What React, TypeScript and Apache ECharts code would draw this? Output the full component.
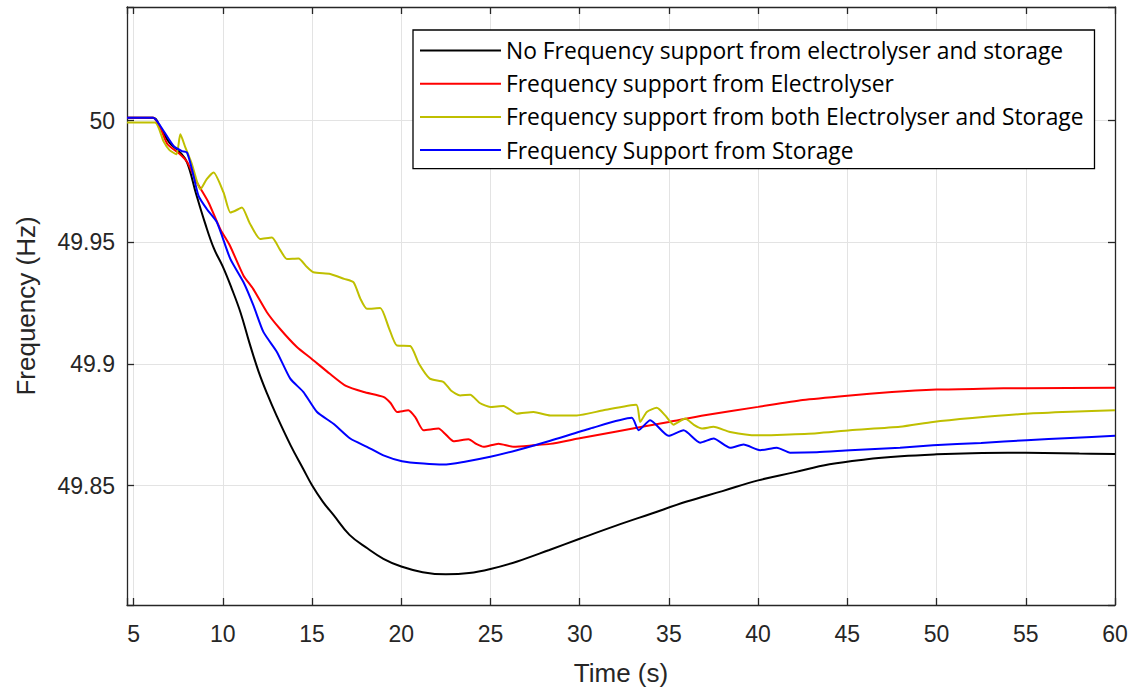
import React, { useEffect, useRef } from "react";
import * as echarts from "echarts";

const seriesNames = [
  "No Frequency support from electrolyser and storage",
  "Frequency support from Electrolyser",
  "Frequency support from both Electrolyser and Storage",
  "Frequency Support from Storage",
];
const seriesColors = ["#000000", "#ff0000", "#bfbf00", "#0000ff"];

const xTickLabels = ["5", "10", "15", "20", "25", "30", "35", "40", "45", "50", "55", "60"];
const yTickLabels = ["49.85", "49.9", "49.95", "50"];

const noSupport = [
  [4.63, 50.0012], [6.1, 50.0012], [6.5, 49.9972], [7.0, 49.991], [7.6, 49.987], [8.0, 49.9828],
  [8.5, 49.970], [9.0, 49.958], [9.5, 49.9475], [10.0, 49.940], [10.5, 49.931], [11.0, 49.921],
  [11.5, 49.9085], [12.0, 49.897], [12.5, 49.8875], [13.0, 49.879], [13.8, 49.8666], [14.5, 49.857],
  [15.0, 49.8502], [15.6, 49.8435], [16.2, 49.838], [17.1, 49.8298], [18.1, 49.8243], [19.0, 49.820],
  [20.0, 49.8168], [21.2, 49.8145], [22.5, 49.8136], [23.8, 49.8141], [25.0, 49.8158], [26.5, 49.8189],
  [28.3, 49.8236], [30.0, 49.8282], [32.0, 49.8335], [34.0, 49.8385], [36.0, 49.8435], [38.0, 49.8478],
  [40.0, 49.8522], [42.0, 49.8555], [44.0, 49.8588], [46.0, 49.8608], [48.0, 49.8621], [50.0, 49.8629],
  [52.0, 49.8634], [54.0, 49.8636], [56.0, 49.8635], [58.0, 49.8632], [60.0, 49.863],
];

const electrolyser = [
  [4.63, 50.0012], [6.1, 50.0012], [6.5, 49.997], [6.9, 49.9903], [7.6, 49.9862], [8.0, 49.983],
  [8.55, 49.9746], [9.2, 49.9664], [9.86, 49.9554], [10.4, 49.9486], [11.16, 49.9363], [11.7, 49.9309],
  [12.47, 49.9213], [13.2, 49.9145], [14.15, 49.907], [15.0, 49.902], [16.0, 49.896], [16.9, 49.891],
  [17.9, 49.8885], [19.0, 49.8865], [19.4, 49.884], [19.76, 49.8803], [20.4, 49.881], [20.8, 49.878],
  [21.25, 49.8728], [22.09, 49.8735], [22.5, 49.871], [22.93, 49.8683], [23.77, 49.8691], [24.2, 49.8672],
  [24.61, 49.866], [25.45, 49.8673], [26.3, 49.866], [27.4, 49.8666], [28.35, 49.8672], [30.0, 49.8695],
  [32.0, 49.8722], [35.0, 49.8762], [37.0, 49.879], [40.0, 49.8824], [42.5, 49.8852], [45.0, 49.887],
  [47.5, 49.8885], [50.0, 49.8895], [52.5, 49.8899], [55.0, 49.8901], [60.0, 49.8903],
];

const both = [
  [4.63, 49.9992], [6.2, 49.9992], [6.68, 49.9915], [7.0, 49.988], [7.4, 49.9862], [7.62, 49.9944],
  [7.9, 49.989], [8.27, 49.9821], [8.55, 49.975], [8.74, 49.9718], [9.1, 49.976], [9.48, 49.9787],
  [10.04, 49.9705], [10.42, 49.9623], [10.7, 49.963], [11.07, 49.9643], [11.5, 49.958], [12.1, 49.9514],
  [12.75, 49.952], [13.2, 49.947], [13.59, 49.9432], [14.24, 49.9434], [14.7, 49.940], [15.08, 49.9377],
  [16.02, 49.937], [16.8, 49.935], [17.33, 49.9336], [17.7, 49.927], [18.08, 49.9227], [18.82, 49.923],
  [19.3, 49.915], [19.76, 49.9076], [20.5, 49.9074], [21.0, 49.900], [21.6, 49.894], [22.37, 49.8926],
  [22.8, 49.889], [23.3, 49.8871], [23.86, 49.8874], [24.4, 49.884], [24.99, 49.8824], [25.73, 49.8828],
  [26.48, 49.8796], [27.41, 49.8803], [28.35, 49.8789], [29.84, 49.8789], [31.33, 49.881], [33.17, 49.8833],
  [33.39, 49.8762], [33.76, 49.8803], [34.32, 49.882], [34.79, 49.8789], [35.26, 49.8751], [35.91, 49.8776],
  [36.4, 49.875], [36.85, 49.8735], [37.5, 49.8742], [38.43, 49.8721], [39.93, 49.8707], [41.42, 49.871],
  [43.3, 49.8716], [45.15, 49.8728], [47.95, 49.8742], [49.8, 49.8762], [52.0, 49.8778], [55.05, 49.8796],
  [57.5, 49.8804], [60.0, 49.881],
];

const storage = [
  [4.63, 50.0012], [6.1, 50.0012], [6.5, 49.9978], [7.24, 49.9896], [7.71, 49.9875], [7.99, 49.9869],
  [8.27, 49.98], [8.64, 49.9691], [9.11, 49.9636], [9.67, 49.9582], [10.42, 49.9432], [11.16, 49.9336],
  [11.72, 49.924], [12.28, 49.9131], [13.03, 49.905], [13.78, 49.894], [14.52, 49.8885], [15.28, 49.8803],
  [16.2, 49.8755], [17.14, 49.8694], [18.08, 49.866], [19.0, 49.8625], [20.04, 49.8601], [21.25, 49.8591],
  [22.37, 49.8587], [23.49, 49.8598], [24.99, 49.8619], [26.48, 49.8646], [28.35, 49.8685], [30.59, 49.8735],
  [32.92, 49.8779], [33.3, 49.8728], [33.95, 49.8769], [34.98, 49.8705], [35.82, 49.8728], [36.75, 49.8677],
  [37.5, 49.8694], [38.43, 49.8656], [39.18, 49.8669], [40.11, 49.8646], [41.05, 49.8656], [41.79, 49.8636],
  [43.29, 49.8638], [45.15, 49.8646], [47.95, 49.8656], [49.8, 49.8666], [52.5, 49.8676], [55.05, 49.8687],
  [57.5, 49.8696], [60.0, 49.8705],
];

const seriesData = [noSupport, electrolyser, both, storage];

const X_MIN = 4.63;
const X_MAX = 60;
const Y_MIN = 49.801;
const Y_MAX = 50.0467;

const FONT = "'Liberation Sans', Arial, Helvetica, sans-serif";
const LEGEND_FONT = "'Open Sans', 'Liberation Sans', Arial, sans-serif";
const AXIS_COLOR = "#262626";

function fmt(labels: string[]) {
  return (v: number) => {
    const s = String(Math.round(v * 10000) / 10000);
    return labels.indexOf(s) >= 0 ? s : "";
  };
}

export default function App() {
  const ref = useRef<HTMLDivElement>(null);
  useEffect(() => {
    if (!ref.current) return;
    const chart = echarts.init(ref.current, undefined, { renderer: "svg" });
    const baseAxisLine = { show: true, lineStyle: { color: AXIS_COLOR, width: 1.3 } };
    const tick = { show: true, inside: true, length: 7, lineStyle: { color: AXIS_COLOR, width: 1.3 } };
    const grid = { show: true, lineStyle: { color: "#e3e3e3", width: 1 } };
    chart.setOption({
      animation: false,
      backgroundColor: "#ffffff",
      grid: { left: 127, right: 19, top: 7, bottom: 84, containLabel: false },
      legend: {
        orient: "vertical",
        left: 413,
        top: 30,
        padding: [9, 11, 7, 7],
        itemGap: 10.2,
        itemWidth: 81,
        itemHeight: 2,
        icon: "rect",
        backgroundColor: "#ffffff",
        borderColor: "#000000",
        borderWidth: 1.3,
        borderRadius: 0,
        textStyle: { fontFamily: LEGEND_FONT, fontSize: 22.8, color: "#000000" },
        data: seriesNames,
      },
      xAxis: [
        {
          type: "value",
          min: X_MIN,
          max: X_MAX,
          minInterval: 5,
          maxInterval: 5,
          position: "bottom",
          name: "Time (s)",
          nameLocation: "middle",
          nameGap: 55,
          nameTextStyle: { fontFamily: FONT, fontSize: 26, color: AXIS_COLOR },
          axisLine: baseAxisLine,
          axisTick: tick,
          splitLine: grid,
          axisLabel: {
            margin: 17,
            fontFamily: FONT,
            fontSize: 23,
            color: AXIS_COLOR,
            formatter: fmt(xTickLabels),
          },
        },
        {
          type: "value",
          min: X_MIN,
          max: X_MAX,
          minInterval: 5,
          maxInterval: 5,
          position: "top",
          axisLine: baseAxisLine,
          axisTick: tick,
          splitLine: { show: false },
          axisLabel: { show: false },
        },
      ],
      yAxis: [
        {
          type: "value",
          min: Y_MIN,
          max: Y_MAX,
          minInterval: 0.05,
          maxInterval: 0.05,
          position: "left",
          name: "Frequency (Hz)",
          nameLocation: "middle",
          nameGap: 88,
          nameTextStyle: { fontFamily: FONT, fontSize: 26, color: AXIS_COLOR },
          axisLine: baseAxisLine,
          axisTick: tick,
          splitLine: grid,
          axisLabel: {
            margin: 12,
            fontFamily: FONT,
            fontSize: 23,
            color: AXIS_COLOR,
            formatter: fmt(yTickLabels),
          },
        },
        {
          type: "value",
          min: Y_MIN,
          max: Y_MAX,
          minInterval: 0.05,
          maxInterval: 0.05,
          position: "right",
          axisLine: baseAxisLine,
          axisTick: tick,
          splitLine: { show: false },
          axisLabel: { show: false },
        },
      ],
      series: seriesNames.map((name, i) => ({
        name,
        type: "line",
        xAxisIndex: 0,
        yAxisIndex: 0,
        data: seriesData[i],
        showSymbol: false,
        symbol: "none",
        smooth: i === 0 ? 0.4 : 0.2,
        color: seriesColors[i],
        lineStyle: { color: seriesColors[i], width: 2 },
        z: 2,
      })),
    });
    return () => chart.dispose();
  }, []);
  return (
    <div
      ref={ref}
      style={{ position: "fixed", left: 0, top: 0, width: 1134, height: 691, background: "#fff" }}
    />
  );
}
